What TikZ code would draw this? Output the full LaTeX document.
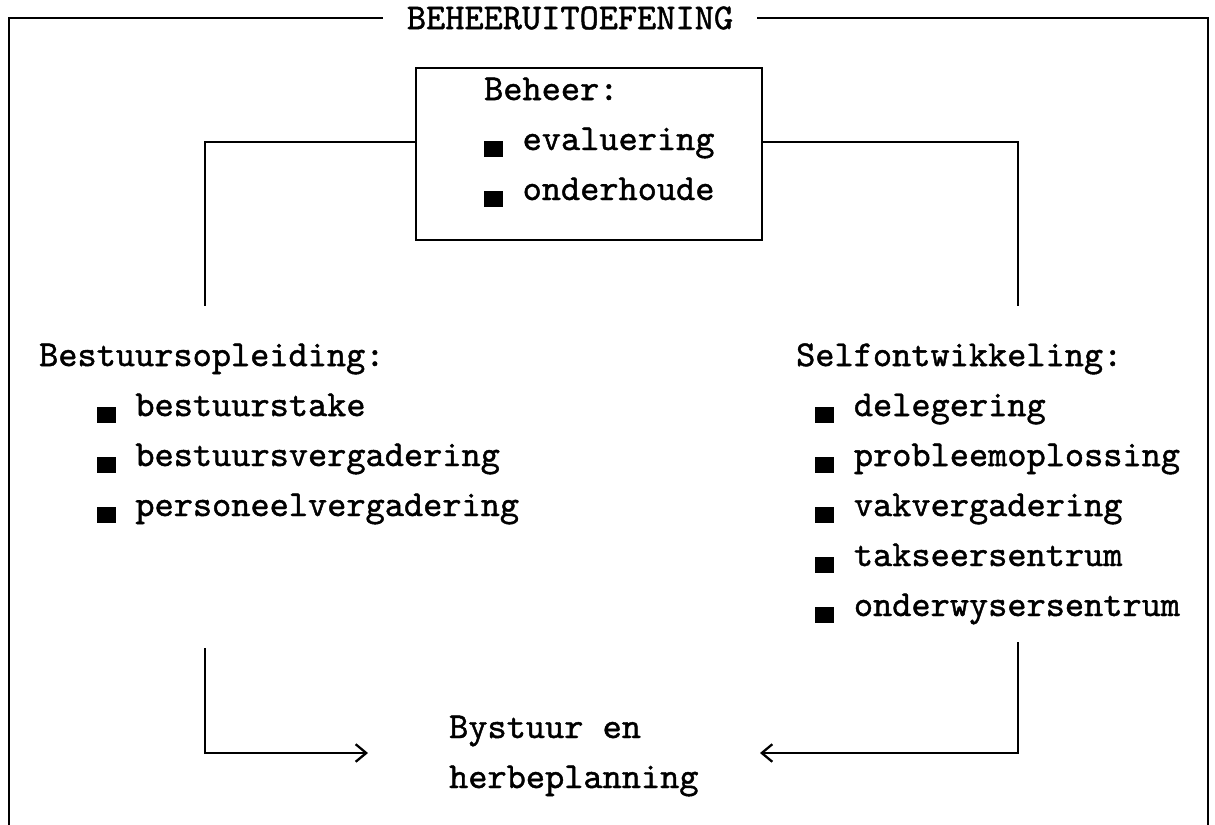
\documentclass[tikz,border=0pt]{standalone}
\usepackage{fontspec}
\setmonofont{lmmono10-regular.otf}[FakeBold=1.2]
\usetikzlibrary{arrows.meta}
\newcommand{\blk}{\makebox[0.77cm][l]{\rule[-0.14cm]{0.38cm}{0.32cm}}}

\begin{document}
\begin{tikzpicture}[x=0.02cm, y=-0.02cm, line width=1.3pt,
  txt/.style={font=\ttfamily\fontsize{20.8}{28.45}\selectfont, inner sep=0pt, anchor=base west, align=left},
  title node/.style={font=\ttfamily\fontsize{20.8}{28.45}\selectfont, fill=white, inner xsep=0.46cm, inner ysep=0pt},
  box node/.style={draw, minimum width=6.92cm, minimum height=3.44cm, inner sep=0pt},
  pyl/.style={-{Straight Barb[length=6pt,width=10pt]}}]
\useasboundingbox (0,0) rectangle (1215,825);
% raam
\coordinate (rlo) at (9,825);
\coordinate (rro) at (1208,825);
\node[title node] (titel) at (570,18) {BEHEERUITOEFENING};
\draw[line width=1.5pt] (titel.west) -| (rlo);
\draw[line width=1.5pt] (titel.east) -| (rro);
% blokke (base = laaste reel)
\node[box node] (beheer) at (589,154) {};
\node[txt] (beheertxt) at (483,200) {Beheer:\\\blk evaluering\\\blk onderhoude};
\node[txt] (bestuur) at (38,516) {Bestuursopleiding:\\
  \hspace*{1.155cm}\blk bestuurstake\\
  \hspace*{1.155cm}\blk bestuursvergadering\\
  \hspace*{1.155cm}\blk personeelvergadering};
\node[txt] (self) at (795,616) {Selfontwikkeling:\\
  \hspace*{0.385cm}\blk delegering\\
  \hspace*{0.385cm}\blk probleemoplossing\\
  \hspace*{0.385cm}\blk vakvergadering\\
  \hspace*{0.385cm}\blk takseersentrum\\
  \hspace*{0.385cm}\blk onderwysersentrum};
\node[txt] (bystuur) at (448,788) {Bystuur en\\herbeplanning};
% verbindings
\coordinate (kl) at (205,142);
\coordinate (kr) at (1018,142);
\coordinate (lb) at (205,306);
\coordinate (rb) at (1018,306);
\coordinate (lo) at (205,648);
\coordinate (ro) at (1018,642);
\coordinate (pl) at (368,753);
\coordinate (pr) at (760,753);
\draw (beheer.west |- kl) -- (kl) -- (lb);
\draw (beheer.east |- kr) -- (kr) -- (rb);
\draw[pyl] (lo) |- (pl);
\draw[pyl] (ro) |- (pr);
\end{tikzpicture}
\end{document}
